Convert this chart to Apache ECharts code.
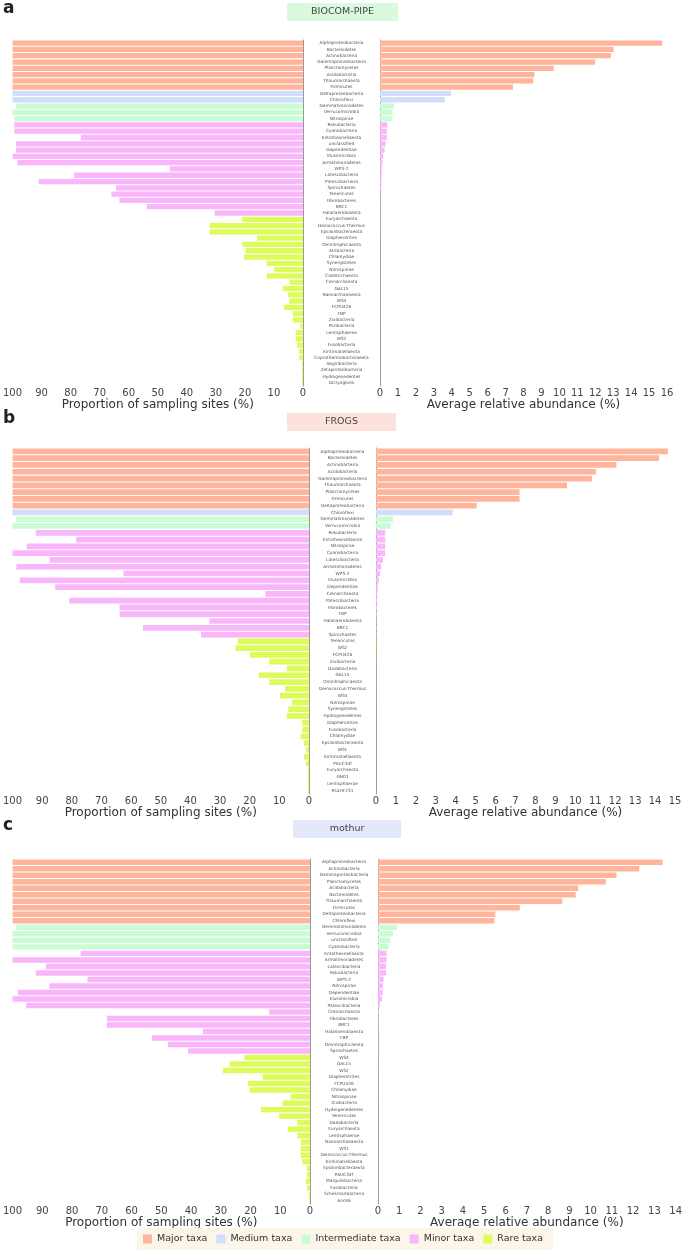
<!DOCTYPE html>
<html>
<head>
<meta charset="utf-8">
<script src="https://cdn.jsdelivr.net/npm/echarts@6/dist/echarts.min.js"></script>
<style>
html,body{margin:0;padding:0;background:#fff;}
#chart{width:685px;height:1258px;}
</style>
</head>
<body>
<div id="chart"></div>
<script>
// ---------- DATA ----------
const groupNames = ['Major taxa', 'Medium taxa', 'Intermediate taxa', 'Minor taxa', 'Rare taxa'];
const groupColors = ['#ffb59c', '#d0ddfb', '#c9fcd4', '#f9b6fb', '#ddfc5c'];

// Panel a: BIOCOM-PIPE
const catsA = ['Alphaproteobacteria','Bacteroidetes','Actinobacteria','Gammaproteobacteria','Planctomycetes','Acidobacteria','Thaumarchaeota','Firmicutes','Deltaproteobacteria','Chloroflexi','Gemmatimonadetes','Verrucomicrobia','Nitrospirae','Rokubacteria','Cyanobacteria','Entotheonellaeota','unclassified','Dependentiae','Elusimicrobia','Armatimonadetes','WPS-2','Latescibacteria','Patescibacteria','Spirochaetes','Tenericutes','Fibrobacteres','BRC1','Halanaerobiaeota','Euryarchaeota','Deinococcus-Thermus','Epsilonbacteraeota','Diapherotrites','Omnitrophicaeota','Atribacteria','Chlamydiae','Synergistetes','Nitrospinae','Calditrichaeota','Crenarchaeota','GAL15','Nanoarchaeaeota','WS4','FCPU426','FBP','Zixibacteria','Poribacteria','Lentisphaerae','WS2','Fusobacteria','Kiritimatiellaeota','Coprothermobacteraeota','Aegiribacteria','Zetaproteobacteria','Hydrogenedentes','Dictyoglomi'];
const sitesA = [100,100,100,100,100,100,100,100,100,100,98.8,100,99.4,99.4,99.4,76.5,98.8,98.8,100,98.3,45.9,78.8,91,64.4,66,63.2,53.8,30.4,20.9,32.1,32.1,15.8,20.9,19.8,20.3,12.5,9.9,12.5,4.7,7,5.2,4.7,6.5,3.5,3.5,0.9,2.5,2.5,2,1.3,1.3,0.4,0.4,0.3,0.3];
const abunA = [15.73,13.02,12.88,11.99,9.69,8.61,8.54,7.41,3.96,3.6,0.79,0.7,0.65,0.41,0.38,0.38,0.31,0.26,0.17,0.14,0.1,0.09,0.08,0.07,0.03,0.03,0.02,0.02,0.015,0.015,0.012,0.012,0.01,0.01,0.01,0.008,0.008,0.008,0.006,0.006,0.005,0.005,0.005,0.004,0.004,0.003,0.003,0.003,0.002,0.002,0.002,0.001,0.001,0.001,0.001];
const groupSizesA = [8, 2, 3, 15, 27];

// Panel b: FROGS
const catsB = ['Alphaproteobacteria','Bacteroidetes','Actinobacteria','Acidobacteria','Gammaproteobacteria','Thaumarchaeota','Planctomycetes','Firmicutes','Deltaproteobacteria','Chloroflexi','Gemmatimonadetes','Verrucomicrobia','Rokubacteria','Entotheonellaeota','Nitrospirae','Cyanobacteria','Latescibacteria','Armatimonadetes','WPS-2','Elusimicrobia','Dependentiae','Crenarchaeota','Patescibacteria','Fibrobacteres','FBP','Halanaerobiaeota','BRC1','Spirochaetes','Tenericutes','WS2','FCPU426','Zixibacteria','Dadabacteria','GAL15','Omnitrophicaeota','Deinococcus-Thermus','WS4','Nitrospinae','Synergistetes','Hydrogenedentes','Diapherotrites','Fusobacteria','Chlamydiae','Epsilonbacteraeota','WS1','Kiritimatiellaeota','PAUC34f','Euryarchaeota','GN01','Lentisphaerae','RsaHF231'];
const sitesB = [100,100,100,100,100,100,100,100,100,100,98.7,100,92.2,78.5,95.2,100,87.5,98.7,62.6,97.6,85.6,14.7,80.9,63.9,63.9,33.6,56,36.4,24,24.8,19.9,13.4,7.5,16.9,13.4,8.1,9.8,5.7,7,7.5,2.3,2.3,2.8,1.7,1,1.7,1,0.4,0.4,0.4,0.3];
const abunB = [14.64,14.2,12.06,11.03,10.83,9.58,7.2,7.2,5.05,3.85,0.85,0.74,0.46,0.46,0.46,0.46,0.35,0.26,0.2,0.15,0.09,0.07,0.06,0.05,0.04,0.03,0.03,0.03,0.02,0.02,0.015,0.012,0.01,0.01,0.01,0.008,0.008,0.006,0.006,0.005,0.004,0.004,0.003,0.003,0.002,0.002,0.002,0.001,0.001,0.001,0.001];
const groupSizesB = [9, 1, 2, 16, 23];

// Panel c: mothur
const catsC = ['Alphaproteobacteria','Actinobacteria','Gammaproteobacteria','Planctomycetes','Acidobacteria','Bacteroidetes','Thaumarchaeota','Firmicutes','Deltaproteobacteria','Chloroflexi','Gemmatimonadetes','Verrucomicrobia','unclassified','Cyanobacteria','Entotheonellaeota','Armatimonadetes','Latescibacteria','Rokubacteria','WPS-2','Nitrospirae','Dependentiae','Elusimicrobia','Patescibacteria','Crenarchaeota','Fibrobacteres','BRC1','Halanaerobiaeota','FBP','Omnitrophicaeota','Spirochaetes','WS4','GAL15','WS2','Diapherotrites','FCPU426','Chlamydiae','Nitrospinae','Zixibacteria','Hydrogenedentes','Tenericutes','Dadabacteria','Euryarchaeota','Lentisphaerae','Nanoarchaeaeota','WS1','Deinococcus-Thermus','Kiritimatiellaeota','Epsilonbacteraeota','PAUC34f','Margulisbacteria','Fusobacteria','Schekmanbacteria','AncK6'];
const sitesC = [100,100,100,100,100,100,100,100,100,100,98.7,100,100,100,77.1,100,88.8,92.2,74.8,87.6,98.2,100,95.4,13.7,68.3,68.3,36,53.1,47.7,41,22,27,29.3,15.9,20.9,20.3,6.5,9.2,16.5,10.4,4.3,7.5,4.3,3.1,3.1,3.1,2.6,1,1,1.4,1,0.3,0.3];
const abunC = [13.39,12.29,11.22,10.72,9.42,9.3,8.67,6.67,5.52,5.48,0.9,0.7,0.58,0.5,0.4,0.4,0.38,0.38,0.26,0.22,0.22,0.18,0.08,0.04,0.03,0.03,0.02,0.02,0.02,0.02,0.015,0.012,0.012,0.01,0.01,0.01,0.008,0.008,0.006,0.006,0.005,0.005,0.004,0.004,0.003,0.003,0.003,0.002,0.002,0.002,0.001,0.001,0.001];
const groupSizesC = [10, 0, 4, 16, 23];

const leftTicksMax = 100;
const rightMaxes = [16, 15, 14];

// ---------- LAYOUT ----------
const FONT = 'DejaVu Sans';
const panels = [
  {cats: catsA, sites: sitesA, abun: abunA, sizes: groupSizesA, top: 40, height: 346,
   leftR: 382, rightL: 380, rightR: 18, labelMargin: 38.5, nameGap: 11},
  {cats: catsB, sites: sitesB, abun: abunB, sizes: groupSizesB, top: 448, height: 346,
   leftR: 376, rightL: 376, rightR: 10, labelMargin: 33.5, nameGap: 11},
  {cats: catsC, sites: sitesC, abun: abunC, sizes: groupSizesC, top: 859, height: 345,
   leftR: 375, rightL: 378, rightR: 5, labelMargin: 34, nameGap: 12}
];

const grid = [], xAxis = [], yAxis = [], series = [];

function groupOf(sizes, i) {
  let acc = 0;
  for (let g = 0; g < sizes.length; g++) {
    acc += sizes[g];
    if (i < acc) return g;
  }
  return sizes.length - 1;
}

panels.forEach((p, k) => {
  const gl = grid.length;
  grid.push({left: 5, right: p.leftR, top: p.top, height: p.height, containLabel: false});
  grid.push({left: p.rightL, right: p.rightR, top: p.top, height: p.height, containLabel: false});

  const axisLabelStyle = {fontSize: 10, color: '#444', fontFamily: FONT, margin: 2};
  xAxis.push({
    gridIndex: gl, type: 'value', inverse: true, min: 0, max: leftTicksMax, interval: 10,
    axisLine: {show: false}, axisTick: {show: false}, splitLine: {show: false},
    axisLabel: axisLabelStyle,
    name: 'Proportion of sampling sites (%)', nameLocation: 'middle', nameGap: p.nameGap,
    nameTextStyle: {fontSize: 12, color: '#333', fontFamily: FONT, verticalAlign: 'top'}
  });
  xAxis.push({
    gridIndex: gl + 1, type: 'value', min: 0, max: rightMaxes[k], interval: 1,
    axisLine: {show: false}, axisTick: {show: false}, splitLine: {show: false},
    axisLabel: axisLabelStyle,
    name: 'Average relative abundance (%)', nameLocation: 'middle', nameGap: p.nameGap,
    nameTextStyle: {fontSize: 12, color: '#333', fontFamily: FONT, verticalAlign: 'top'}
  });
  yAxis.push({
    gridIndex: gl, type: 'category', data: p.cats, inverse: true, position: 'right',
    axisLine: {show: true, lineStyle: {color: '#9a9a9a', width: 1}},
    axisTick: {show: false}, axisLabel: {show: false}
  });
  yAxis.push({
    gridIndex: gl + 1, type: 'category', data: p.cats, inverse: true, position: 'left',
    axisLine: {show: true, lineStyle: {color: '#9a9a9a', width: 1}},
    axisTick: {show: false},
    axisLabel: {show: true, interval: 0, fontSize: 4.3, color: '#555', fontFamily: FONT,
      align: 'center', margin: p.labelMargin}
  });

  for (let g = 0; g < 5; g++) {
    const ls = p.sites.map((v, i) => groupOf(p.sizes, i) === g ? v : '-');
    const rs = p.abun.map((v, i) => groupOf(p.sizes, i) === g ? v : '-');
    series.push({
      name: groupNames[g], type: 'bar', xAxisIndex: gl, yAxisIndex: gl,
      stack: 'L' + k, data: ls, barCategoryGap: '16%',
      itemStyle: {color: groupColors[g]}, silent: true, animation: false
    });
    series.push({
      name: groupNames[g], type: 'bar', xAxisIndex: gl + 1, yAxisIndex: gl + 1,
      stack: 'R' + k, data: rs, barCategoryGap: '16%',
      itemStyle: {color: groupColors[g]}, silent: true, animation: false
    });
  }
});

function panelHeader(letter, y, label, bx, bw, bg) {
  return [
    {type: 'text', left: 3, top: y - 3,
     style: {text: letter, fontSize: 17, fontWeight: 'bold', fill: '#222', fontFamily: FONT}},
    {type: 'rect', shape: {x: bx, y: y, width: bw, height: 18}, style: {fill: bg}},
    {type: 'text', x: bx + bw / 2, y: y + 9,
     style: {text: label, fontSize: 9.5, fill: '#444', fontFamily: FONT, align: 'center', verticalAlign: 'middle'}}
  ];
}

const option = {
  backgroundColor: '#ffffff',
  animation: false,
  grid: grid, xAxis: xAxis, yAxis: yAxis, series: series,
  legend: {
    data: groupNames, left: 137, top: 1228, orient: 'horizontal',
    backgroundColor: '#fbf5ea', padding: [6, 10, 6, 6],
    itemWidth: 9, itemHeight: 9, itemGap: 9, icon: 'rect',
    textStyle: {fontSize: 9.5, color: '#333', fontFamily: FONT},
    selectedMode: false
  },
  graphic: [].concat(
    panelHeader('a', 3, 'BIOCOM-PIPE', 287, 111, '#dafadf'),
    panelHeader('b', 413, 'FROGS', 287, 109, '#fde1dd'),
    panelHeader('c', 820, 'mothur', 293, 108, '#e3e9fb')
  )
};

const chart = echarts.init(document.getElementById('chart'), null, {renderer: 'canvas'});
chart.setOption(option);
</script>
</body>
</html>
